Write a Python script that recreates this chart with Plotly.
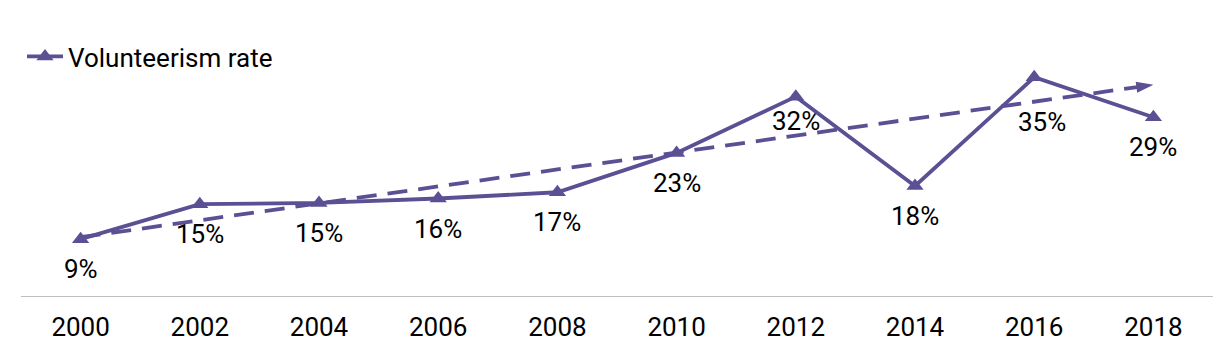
import plotly.graph_objects as go

years = [2000, 2002, 2004, 2006, 2008, 2010, 2012, 2014, 2016, 2018]
rate = [9.1, 14.7, 14.9, 15.6, 16.6, 22.9, 31.9, 17.6, 35.0, 28.6]
trend_years = [2000, 2018]
trend_values = [9.4, 33.8]
series_name = "Volunteerism rate"

COLOR = "#5B5093"
FONT = "Roboto, Arial, sans-serif"
FS = 26

fig = go.Figure()

fig.add_trace(go.Scatter(
    x=trend_years, y=trend_values, mode="lines+markers",
    line=dict(color=COLOR, width=3.8, dash="20px,11px"),
    marker=dict(symbol=["circle", "arrow"], size=[0, 18], angleref="previous", color=COLOR,
                opacity=1, line=dict(width=0)),
    showlegend=False, hoverinfo="skip", cliponaxis=False,
))

fig.add_trace(go.Scatter(
    x=years, y=rate, mode="lines+markers", name=series_name,
    line=dict(color=COLOR, width=3.8),
    marker=dict(symbol="triangle-up", size=15, color=COLOR),
    cliponaxis=False,
))

label_shift_y = {2012: -24, 2016: -45}
label_shift_x = {2016: 8}
for x, y in zip(years, rate):
    fig.add_annotation(
        x=x, y=y, text=f"{y:.0f}%", showarrow=False,
        yshift=label_shift_y.get(x, -30), xshift=label_shift_x.get(x, 0),
        font=dict(family=FONT, size=FS, color="#000000"),
        xanchor="center", yanchor="middle",
    )

fig.update_layout(
    width=1227, height=364,
    margin=dict(l=21, r=14, t=46, b=68, autoexpand=False),
    paper_bgcolor="white", plot_bgcolor="white",
    font=dict(family=FONT, size=FS, color="#000000"),
    showlegend=True,
    legend=dict(x=22 / 1227, y=1 - 33 / 364, xref="container", yref="container",
                xanchor="left", yanchor="top", itemwidth=36,
                font=dict(family=FONT, size=FS, color="#000000"),
                bgcolor="rgba(0,0,0,0)"),
    xaxis=dict(range=[1999, 2019], tickmode="array", tickvals=years,
               ticktext=[str(y) for y in years],
               showgrid=False, zeroline=False, showline=True,
               linecolor="#BFBFBF", linewidth=1, ticks="", ticklabelstandoff=8,
               tickfont=dict(family=FONT, size=FS, color="#000000")),
    yaxis=dict(range=[0, 40], visible=False, showgrid=False, zeroline=False),
)

fig.write_html("out.html", config={"displayModeBar": False},
               post_script="document.body.style.margin='0';document.body.style.overflow='hidden';")
